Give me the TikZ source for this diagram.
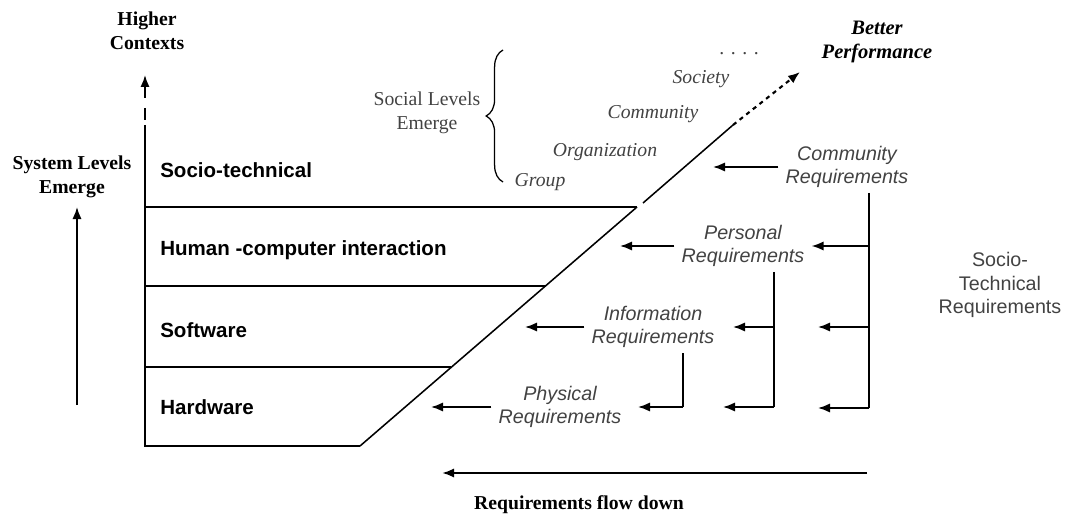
\documentclass[tikz,border=0pt]{standalone}
\usepackage{fontspec}
\setmainfont{Liberation Serif}
\setsansfont{Liberation Sans}
\usetikzlibrary{arrows.meta,decorations.pathreplacing}
\definecolor{inkgray}{RGB}{66,66,66}

\begin{document}
\begin{tikzpicture}[
    x=0.025cm, y=-0.025cm,
    tier/.style={anchor=west,inner sep=0pt,font=\sffamily\bfseries\fontsize{14.6}{17}\selectfont},
    sidetext/.style={align=center,inner sep=1pt,font=\bfseries\fontsize{14}{17}\selectfont},
    socialtext/.style={inner sep=1pt,text=inkgray,font=\itshape\fontsize{14}{17}\selectfont},
    reqtext/.style={align=center,inner xsep=5pt,inner ysep=1pt,text=inkgray,font=\sffamily\itshape\fontsize{14}{16.5}\selectfont},
    flowline/.style={line width=1.2pt,->},
    trunkline/.style={line width=1.2pt},
    boxline/.style={line width=1.1pt},
    >={Latex[length=3mm,width=2.3mm]}
]
\useasboundingbox (0,0) rectangle (1069,517);

\draw[boxline] (145,125) -- (145,446) -- (360,446);
\draw[boxline] (145,207) -- (637,207);
\draw[boxline] (145,286) -- (545,286);
\draw[boxline] (145,367) -- (451,367);
\draw[boxline] (360,446) -- (637,207);
\draw[boxline] (643,203) -- (733,125);

\node[tier] (socio) at (160,170) {Socio-technical};
\node[tier] (hci) at (160,250) {Human -computer interaction};
\node[tier] (sw) at (160,330) {Software};
\node[tier] (hw) at (160,407) {Hardware};

\node[sidetext] (higher) at (147,31) {Higher\\Contexts};
\node[sidetext] (syslev) at (72,177) {System Levels\\Emerge};
\node[sidetext,font=\bfseries\itshape\fontsize{14.6}{17}\selectfont] (better) at (877,42) {Better\\Performance};
\node[sidetext] (flowdown) at (579,505) {Requirements flow down};

\coordinate (hctail) at (145,98);
\coordinate (hctip) at (145,75);
\draw[trunkline] (145,108) -- (145,120);
\draw[flowline] (hctail) -- (hctip);
\coordinate (sltail) at (77,405);
\coordinate (sltip) at (77,207);
\draw[flowline] (sltail) -- (sltip);

\coordinate (bptail) at (733,125);
\coordinate (bptip) at (800,72);
\draw[flowline,line width=1.5pt,dashed] (bptail) -- (bptip);

\node[align=center,inner sep=1pt,text=inkgray,font=\fontsize{14}{17}\selectfont] (social) at (427,113) {Social Levels\\Emerge};
\draw[line width=0.9pt,decorate,decoration={brace,amplitude=0.42cm}] (503,182) -- (503,50);
\node[socialtext] (group) at (540,182) {Group};
\node[socialtext] (org) at (605,152) {Organization};
\node[socialtext] (community) at (653,114) {Community};
\node[socialtext] (society) at (701,79) {Society};
\node[socialtext,font=\fontsize{14}{17}\selectfont] (etc) at (739,54) {. . . .};

\node[reqtext] (commreq) at (847,167) {Community\\Requirements};
\node[reqtext] (persreq) at (743,246) {Personal\\Requirements};
\node[reqtext] (inforeq) at (653,327) {Information\\Requirements};
\node[reqtext] (physreq) at (560,407) {Physical\\Requirements};
\node[align=center,inner sep=1pt,text=inkgray,font=\sffamily\fontsize{14}{16.5}\selectfont] (streq) at (1000,285) {Socio-\\Technical\\Requirements};

\coordinate (commtip) at (713,167);
\coordinate (perstip) at (620,246);
\coordinate (infotip) at (525,327);
\coordinate (phystip) at (431,407);
\draw[flowline] (commreq.west) -- (commreq.west -| commtip);
\draw[flowline] (persreq.west) -- (persreq.west -| perstip);
\draw[flowline] (inforeq.west) -- (inforeq.west -| infotip);
\draw[flowline] (physreq.west) -- (physreq.west -| phystip);

\coordinate (ctrunk) at (869,193);
\coordinate (cbot) at (869,408);
\coordinate (ctip2) at (818,327);
\coordinate (ctip3) at (818,408);
\draw[trunkline] (ctrunk) -- (cbot);
\draw[flowline] (ctrunk |- persreq) -- (persreq.east);
\draw[flowline] (ctrunk |- ctip2) -- (ctip2);
\draw[flowline] (cbot) -- (ctip3);

\coordinate (ptrunk) at (774,272);
\coordinate (pbot) at (774,407);
\coordinate (ptip2) at (733,327);
\coordinate (ptip3) at (723,407);
\draw[trunkline] (ptrunk) -- (pbot);
\draw[flowline] (ptrunk |- ptip2) -- (ptip2);
\draw[flowline] (pbot) -- (ptip3);

\coordinate (itrunk) at (683,353);
\coordinate (ibot) at (683,407);
\coordinate (itip3) at (638,407);
\draw[trunkline] (itrunk) -- (ibot);
\draw[flowline] (ibot) -- (itip3);

\coordinate (flowtail) at (867,473);
\coordinate (flowtip) at (442,473);
\draw[line width=1.6pt,->] (flowtail) -- (flowtip);
\end{tikzpicture}
\end{document}
